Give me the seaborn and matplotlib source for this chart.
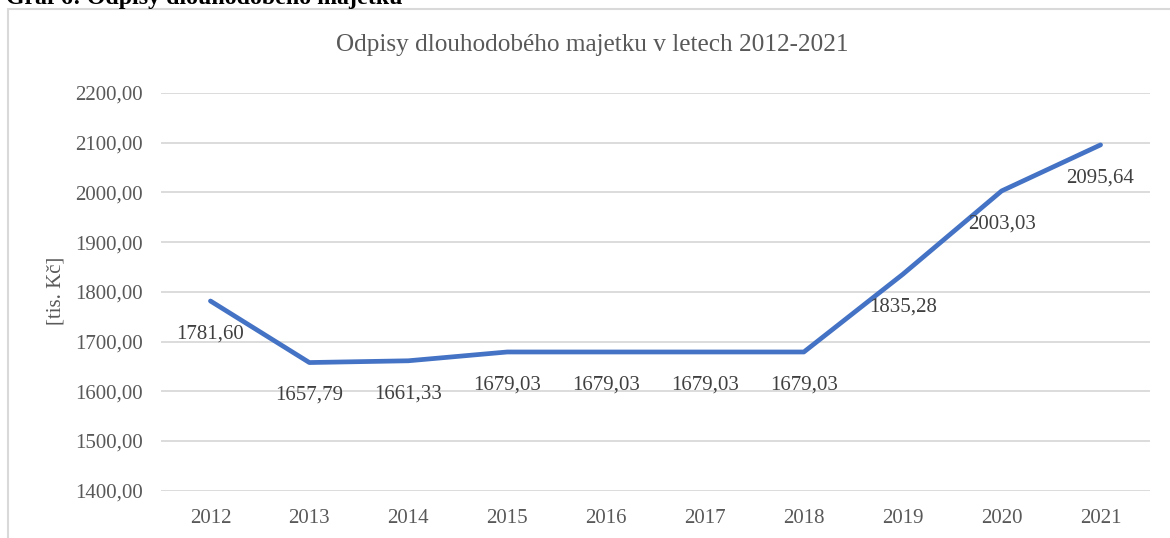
import matplotlib
matplotlib.use("Agg")
import matplotlib.pyplot as plt
import seaborn as sns
import pandas as pd
from matplotlib.patches import Rectangle

years = ["2012", "2013", "2014", "2015", "2016", "2017", "2018", "2019", "2020", "2021"]
values = [1781.60, 1657.79, 1661.33, 1679.03, 1679.03, 1679.03, 1679.03, 1835.28, 2003.03, 2095.64]
labels = ["1781,60", "1657,79", "1661,33", "1679,03", "1679,03", "1679,03", "1679,03", "1835,28", "2003,03", "2095,64"]
yticks = [1400, 1500, 1600, 1700, 1800, 1900, 2000, 2100, 2200]
ytick_labels = ["1400,00", "1500,00", "1600,00", "1700,00", "1800,00", "1900,00", "2000,00", "2100,00", "2200,00"]

sns.set_theme(style="white")
plt.rcParams["font.family"] = ["Liberation Serif", "DejaVu Serif"]

W, H = 1170, 538
fig = plt.figure(figsize=(W / 100, H / 100), dpi=100)
fig.patch.set_facecolor("white")

# chart frame
fig.patches.append(Rectangle((8 / W, -0.05), 1.2, 1 - 8.5 / H + 0.05, transform=fig.transFigure,
                             facecolor="none", edgecolor="#d9d9d9", linewidth=1.5))

# caption (cut at top)
fig.text(6 / W, 1 - 4 / H, "Graf 6: Odpisy dlouhodobého majetku", fontsize=17.2, fontweight="bold",
         color="black", ha="left", va="baseline")

ax = fig.add_axes([161 / W, 1 - 490.7 / H, (1150 - 161) / W, (490.7 - 93) / H])
df = pd.DataFrame({"year": years, "value": values})
sns.lineplot(data=df, x="year", y="value", ax=ax, color="#4472C4", linewidth=3.4,
             sort=False, solid_capstyle="round")

ax.set_xlim(-0.5, len(years) - 0.5)
ax.set_ylim(1400, 2200)
ax.set_yticks(yticks)
ax.set_yticklabels(ytick_labels)
ax.set_xticks(range(len(years)))
ax.set_xticklabels(years)
ax.grid(axis="y", color="#d9d9d9", linewidth=1.3)
ax.grid(axis="x", visible=False)
for s in ax.spines.values():
    s.set_visible(False)
ax.tick_params(axis="both", length=0, labelsize=15, colors="#595959")
ax.tick_params(axis="y", pad=13)
ax.tick_params(axis="x", pad=13)
ax.set_xlabel("")
ax.set_ylabel("")
ax.set_axisbelow(True)

for i, (v, t) in enumerate(zip(values, labels)):
    ax.annotate(t, (i, v), xytext=(0, -33), textcoords="offset pixels", ha="center", va="center",
                fontsize=15, color="#404040")

fig.text(56 / W, 1 - 291 / H, "[tis. Kč]", rotation=90, fontsize=15, color="#595959",
         ha="center", va="center")
fig.text(592 / W, 1 - 51 / H, "Odpisy dlouhodobého majetku v letech 2012-2021", fontsize=18.2,
         color="#595959", ha="center", va="baseline")

fig.savefig("out.png", dpi=100)
